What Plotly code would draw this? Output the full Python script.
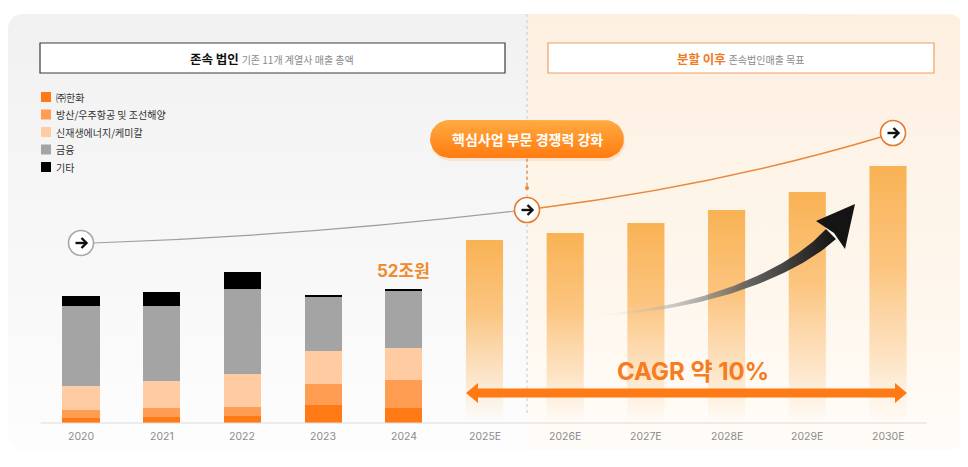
import numpy as np
import plotly.graph_objects as go

# ---------------- data ----------------
years = ["2020", "2021", "2022", "2023", "2024",
         "2025E", "2026E", "2027E", "2028E", "2029E", "2030E"]
past_years = years[:5]
future_years = years[5:]
series_names = ["㈜한화", "방산/우주항공 및 조선해양", "신재생에너지/케미칼", "금융", "기타"]
series_colors = ["#ff7a14", "#ff9d52", "#ffcba3", "#a4a4a4", "#000000"]
hanwha = [1.9, 2.3, 2.7, 7.0, 5.8]
defense = [3.1, 3.5, 3.5, 8.1, 10.9]
energy = [9.3, 10.5, 12.8, 12.8, 12.4]
finance = [31.0, 29.1, 33.0, 21.0, 22.1]
others = [3.9, 5.4, 6.6, 0.8, 0.8]
future_values = [71.0, 73.7, 77.6, 82.7, 89.6, 99.7]
label_2024 = "52조원"
cagr_text = "CAGR 약 10%"
left_title_bold = "존속 법인"
left_title_rest = "기존 11개 계열사 매출 총액"
right_title_bold = "분할 이후"
right_title_rest = "존속법인매출 목표"
pill_text = "핵심사업 부문 경쟁력 강화"

# ---------------- geometry / style ----------------
SW, SH = 968, 467          # screen size
OFF = 8                    # page body margin
W, H = SW - OFF, SH - OFF  # figure size
FONT = "Inter, 'Noto Sans CJK KR', sans-serif"
KFONT = "'Noto Sans CJK KR', Inter, sans-serif"
ORANGE = "#f57c1f"
BAR_W = 0.46
# chart axis mapping (category index -> screen pixel)
X_PX0, X_STEP = 81.0, 80.7
BASE_PX, Y_SCALE = 423.0, 2.577
x2_range = [(OFF - X_PX0) / X_STEP, (SW - X_PX0) / X_STEP]
y2_range = [(BASE_PX - SH) / Y_SCALE, (BASE_PX - OFF) / Y_SCALE]


def rrect(x0, y0, x1, y1, r, tl=True, tr=True, br=True, bl=True, n=10):
    xs, ys = [], []

    def corner(flag, cx, cy, a0, a1, px, py):
        if flag:
            for a in np.linspace(np.radians(a0), np.radians(a1), n):
                xs.append(cx + r * np.cos(a))
                ys.append(cy + r * np.sin(a))
        else:
            xs.append(px)
            ys.append(py)

    corner(tl, x0 + r, y0 + r, 180, 270, x0, y0)
    corner(tr, x1 - r, y0 + r, 270, 360, x1, y0)
    corner(br, x1 - r, y1 - r, 0, 90, x1, y1)
    corner(bl, x0 + r, y1 - r, 90, 180, x0, y1)
    xs.append(xs[0])
    ys.append(ys[0])
    return xs, ys


fig = go.Figure()

# ---------- background panels (pixel axes x/y) ----------
DIV_X = 527
lx, ly = rrect(8, 14, DIV_X, 450, 14, tr=False, br=False)
fig.add_trace(go.Scatter(x=lx, y=ly, fill="toself", mode="lines", line=dict(width=0),
                         fillgradient=dict(type="vertical", start=14, stop=450,
                                           colorscale=[[0, "#f1f1f1"], [0.6, "#f8f8f8"], [1, "#fdfdfd"]]),
                         hoverinfo="skip", showlegend=False, xaxis="x", yaxis="y"))
rx, ry = rrect(DIV_X, 14, 963, 450, 14, tl=False, bl=False)
fig.add_trace(go.Scatter(x=rx, y=ry, fill="toself", mode="lines", line=dict(width=0),
                         fillgradient=dict(type="vertical", start=14, stop=450,
                                           colorscale=[[0, "#fdf0e1"], [0.6, "#fef6ec"], [1, "#fffcf8"]]),
                         hoverinfo="skip", showlegend=False, xaxis="x", yaxis="y"))
# dotted divider
fig.add_trace(go.Scatter(x=[DIV_X, DIV_X], y=[14, 413], mode="lines",
                         line=dict(color="#c9c9c9", width=1, dash="dot"),
                         hoverinfo="skip", showlegend=False, xaxis="x", yaxis="y"))

# ---------- chart (x2/y2) ----------
xi_past = list(range(len(past_years)))
for name, color, vals in zip(series_names, series_colors, [hanwha, defense, energy, finance, others]):
    fig.add_trace(go.Bar(x=xi_past, y=vals, name=name, marker=dict(color=color, line=dict(width=0)),
                         width=BAR_W, hoverinfo="skip", showlegend=False, xaxis="x2", yaxis="y2"))

for i, v in enumerate(future_values):
    xc = len(past_years) + i
    fig.add_trace(go.Scatter(
        x=[xc - BAR_W / 2, xc + BAR_W / 2, xc + BAR_W / 2, xc - BAR_W / 2, xc - BAR_W / 2],
        y=[0, 0, v, v, 0], fill="toself", mode="lines", line=dict(width=0),
        fillgradient=dict(type="vertical", start=0, stop=v,
                          colorscale=[[0, "rgba(253,214,170,0.0)"], [0.25, "rgba(252,205,150,0.5)"],
                                      [0.6, "rgba(251,190,112,0.88)"], [1, "rgba(249,178,84,1)"]]),
        hoverinfo="skip", showlegend=False, xaxis="x2", yaxis="y2"))

# ---------- foreground gradient elements (x3/y3 pixel axes) ----------
# pill shadow + pill
sx, sy = rrect(431, 123, 625, 161, 19)
fig.add_trace(go.Scatter(x=sx, y=sy, fill="toself", mode="lines", line=dict(width=0),
                         fillcolor="rgba(255,130,30,0.15)", hoverinfo="skip", showlegend=False,
                         xaxis="x3", yaxis="y3"))
px_, py_ = rrect(430, 120, 624, 158, 19)
fig.add_trace(go.Scatter(x=px_, y=py_, fill="toself", mode="lines", line=dict(width=0),
                         fillgradient=dict(type="vertical", start=120, stop=158,
                                           colorscale=[[0, "#ffab42"], [1, "#ff7b10"]]),
                         hoverinfo="skip", showlegend=False, xaxis="x3", yaxis="y3"))

# curved gradient arrow
P = np.array([[597, 315], [700, 310], [790, 275], [831, 234]], dtype=float)
t = np.linspace(0, 1, 60)[:, None]
curve = ((1 - t) ** 3) * P[0] + 3 * ((1 - t) ** 2) * t * P[1] + 3 * (1 - t) * (t ** 2) * P[2] + (t ** 3) * P[3]
deriv = 3 * ((1 - t) ** 2) * (P[1] - P[0]) + 6 * (1 - t) * t * (P[2] - P[1]) + 3 * (t ** 2) * (P[3] - P[2])
nrm = np.stack([-deriv[:, 1], deriv[:, 0]], axis=1)
nrm /= np.linalg.norm(nrm, axis=1, keepdims=True)
half = (0.8 + 6.2 * t[:, 0] ** 1.3)[:, None]
left = curve + nrm * half
right = curve - nrm * half
poly = np.vstack([left, right[::-1], left[:1]])
fig.add_trace(go.Scatter(x=poly[:, 0], y=poly[:, 1], fill="toself", mode="lines", line=dict(width=0),
                         fillgradient=dict(type="horizontal", start=597, stop=835,
                                           colorscale=[[0, "rgba(215,215,215,0)"], [0.3, "rgba(170,170,170,0.55)"],
                                                       [0.65, "rgba(80,80,80,0.9)"], [1, "rgba(20,20,20,1)"]]),
                         hoverinfo="skip", showlegend=False, xaxis="x3", yaxis="y3"))
head = np.array([[855, 204], [845, 249], [834, 233], [816, 221], [855, 204]], dtype=float)
fig.add_trace(go.Scatter(x=head[:, 0], y=head[:, 1], fill="toself", mode="lines", line=dict(width=0),
                         fillcolor="#141414", hoverinfo="skip", showlegend=False, xaxis="x3", yaxis="y3"))

# ---------- shapes ----------
shapes = []
# header boxes
shapes.append(dict(type="rect", xref="x", yref="y", x0=40, x1=505, y0=43, y1=73,
                   fillcolor="white", line=dict(color="#3a3a3a", width=1.2), layer="above"))
shapes.append(dict(type="rect", xref="x", yref="y", x0=548, x1=934, y0=43, y1=73,
                   fillcolor="white", line=dict(color="#f2a05e", width=1.2), layer="above"))
# legend squares
for k, c in enumerate(series_colors):
    yc = 97 + k * 17.5
    shapes.append(dict(type="rect", xref="x", yref="y", x0=41, x1=51, y0=yc - 5, y1=yc + 5,
                       fillcolor=c, line=dict(width=0), layer="above"))
# connecting curves
shapes.append(dict(type="path", xref="x", yref="y", path="M 93,243 Q 300,236 515,211",
                   line=dict(color="#9e9e9e", width=1.2), layer="above"))
shapes.append(dict(type="path", xref="x", yref="y", path="M 540,208 Q 720,185 881,137",
                   line=dict(color="#e8883c", width=1.5), layer="above"))
# orange dotted connector from pill to circle
shapes.append(dict(type="line", xref="x", yref="y", x0=DIV_X, x1=DIV_X, y0=159, y1=188,
                   line=dict(color="#e8883c", width=1.2, dash="dot"), layer="above"))
shapes.append(dict(type="circle", xref="x", yref="y", x0=DIV_X - 2, x1=DIV_X + 2, y0=186, y1=190,
                   fillcolor="#e8883c", line=dict(width=0), layer="above"))
# circles with arrows
circles = [(81, 243, "#a8a8a8"), (DIV_X, 210, "#e8782a"), (893, 133, "#e8782a")]
for cx, cy, lc in circles:
    shapes.append(dict(type="circle", xref="x", yref="y", x0=cx - 12.5, x1=cx + 12.5, y0=cy - 12.5,
                       y1=cy + 12.5, fillcolor="white", line=dict(color=lc, width=1.6), layer="above"))
    shapes.append(dict(type="line", xref="x", yref="y", x0=cx - 5.5, x1=cx + 5, y0=cy, y1=cy,
                       line=dict(color="#111111", width=2.4), layer="above"))
    shapes.append(dict(type="path", xref="x", yref="y",
                       path=f"M {cx + 0.5},{cy - 5} L {cx + 5.5},{cy} L {cx + 0.5},{cy + 5}",
                       line=dict(color="#111111", width=2.4), layer="above"))
# baseline
shapes.append(dict(type="line", xref="x2", yref="y2", x0=-0.5, x1=len(years) - 0.52, y0=0, y1=0,
                   line=dict(color="#dcdcdc", width=1.2), layer="above"))
# CAGR double arrow
ay, sh, hh, hl = 393, 4.5, 10, 12
x_l, x_r = 466, 907
path = (f"M {x_l},{ay} L {x_l + hl},{ay - hh} L {x_l + hl},{ay - sh} L {x_r - hl},{ay - sh} "
        f"L {x_r - hl},{ay - hh} L {x_r},{ay} L {x_r - hl},{ay + hh} L {x_r - hl},{ay + sh} "
        f"L {x_l + hl},{ay + sh} L {x_l + hl},{ay + hh} Z")
shapes.append(dict(type="path", xref="x", yref="y", path=path, fillcolor="#ff7a14",
                   line=dict(width=0), layer="above"))

# ---------- annotations ----------
ann = []
ann.append(dict(xref="x", yref="y", x=272, y=58, showarrow=False, xanchor="center", yanchor="middle",
                text=f"<b>{left_title_bold}</b> <span style='font-size:10px;color:#8a8a8a'>{left_title_rest}</span>",
                font=dict(family=KFONT, size=12.5, color="#111111")))
ann.append(dict(xref="x", yref="y", x=741, y=58, showarrow=False, xanchor="center", yanchor="middle",
                text=f"<b>{right_title_bold}</b> <span style='font-size:10px;color:#8a8a8a'>{right_title_rest}</span>",
                font=dict(family=KFONT, size=12.5, color="#f07a22")))
for k, name in enumerate(series_names):
    ann.append(dict(xref="x", yref="y", x=54, y=97 + k * 17.5, showarrow=False, xanchor="left",
                    yanchor="middle", text=name, font=dict(family=KFONT, size=10, color="#333333")))
ann.append(dict(xref="x", yref="y", x=527, y=139, showarrow=False, xanchor="center", yanchor="middle",
                text=f"<b>{pill_text}</b>", font=dict(family=KFONT, size=14, color="white")))
total_2024 = hanwha[4] + defense[4] + energy[4] + finance[4] + others[4]
ann.append(dict(xref="x2", yref="y2", x=4, y=total_2024, yshift=18, showarrow=False, xanchor="center",
                yanchor="middle", text=f"<b>{label_2024}</b>",
                font=dict(family=FONT, size=17, color="#f08a2c")))
ann.append(dict(xref="x", yref="y", x=693, y=371, showarrow=False, xanchor="center", yanchor="middle",
                text=f"<b>{cagr_text}</b>", font=dict(family=FONT, size=24, color=ORANGE)))
for i, yr in enumerate(years):
    ann.append(dict(xref="x2", yref="y2", x=i, y=0, yshift=-13, showarrow=False, xanchor="center",
                    yanchor="middle", text=yr, font=dict(family=FONT, size=10.5, color="#8c8c8c")))

hidden = dict(visible=False, fixedrange=True, showgrid=False, zeroline=False)
fig.update_layout(
    width=W, height=H, margin=dict(l=0, r=0, t=0, b=0),
    paper_bgcolor="white", plot_bgcolor="rgba(0,0,0,0)",
    barmode="stack", showlegend=False,
    xaxis=dict(range=[OFF, SW], **hidden),
    yaxis=dict(range=[SH, OFF], **hidden),
    xaxis2=dict(range=x2_range, overlaying="x", **hidden),
    yaxis2=dict(range=y2_range, overlaying="y", **hidden),
    xaxis3=dict(range=[OFF, SW], overlaying="x", **hidden),
    yaxis3=dict(range=[SH, OFF], overlaying="y", **hidden),
    shapes=shapes, annotations=ann,
)

fig.write_html("out.html")
